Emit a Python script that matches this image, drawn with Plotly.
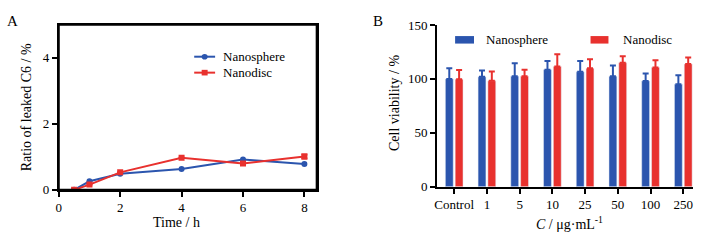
import plotly.graph_objects as go

W, H = 717, 241

# Panel A data
time_h = [0.5, 1, 2, 4, 6, 8]
sphere_leak = [0.0, 0.26, 0.49, 0.63, 0.92, 0.78]
disc_leak = [0.0, 0.16, 0.53, 0.97, 0.80, 1.01]
disc_leak_err = [0, 0, 0, 0, 0, 0.06]

# Panel B data
conc_labels = ["Control", "1", "5", "10", "25", "50", "100", "250"]
sphere_viab = [100, 102, 102.5, 108.6, 106.6, 102.5, 98, 95]
sphere_err = [10, 5.7, 12, 8, 10, 10, 7, 8.5]
disc_viab = [99.6, 98.2, 102.5, 111.5, 109.8, 115, 110.6, 113.8]
disc_err = [8.7, 8.7, 6, 11.3, 8.4, 6, 6.7, 6]

BLUE = "#2b55ae"
RED = "#e8312e"
FONT = "Liberation Serif, Times New Roman, serif"

def px(x):
    return x / W

def py(y):
    return 1 - y / H

fig = go.Figure()

fig.add_trace(go.Scatter(
    x=time_h, y=sphere_leak, name="Nanosphere", mode="lines+markers",
    line=dict(color=BLUE, width=2), marker=dict(symbol="circle", size=6, color=BLUE),
    xaxis="x", yaxis="y", showlegend=False))
fig.add_trace(go.Scatter(
    x=time_h, y=disc_leak, name="Nanodisc", mode="lines+markers",
    line=dict(color=RED, width=2), marker=dict(symbol="square", size=6, color=RED),
    error_y=dict(type="data", array=disc_leak_err, color=RED, thickness=2, width=3),
    xaxis="x", yaxis="y", showlegend=False))

fig.add_trace(go.Bar(
    x=conc_labels, y=sphere_viab, name="Nanosphere", marker_color=BLUE,
    error_y=dict(type="data", array=sphere_err, arrayminus=[0]*8, symmetric=False,
                 color=BLUE, thickness=2, width=3),
    xaxis="x2", yaxis="y2", showlegend=False))
fig.add_trace(go.Bar(
    x=conc_labels, y=disc_viab, name="Nanodisc", marker_color=RED,
    error_y=dict(type="data", array=disc_err, arrayminus=[0]*8, symmetric=False,
                 color=RED, thickness=2, width=3),
    xaxis="x2", yaxis="y2", showlegend=False))

tickfont = dict(family=FONT, size=13, color="black")
axis_common = dict(showgrid=False, zeroline=False, showline=True, linecolor="black",
                   linewidth=2, ticks="outside", ticklen=5, tickwidth=2, tickcolor="black",
                   tickfont=tickfont)

fig.update_layout(
    width=W, height=H, margin=dict(l=0, r=0, t=0, b=0),
    paper_bgcolor="white", plot_bgcolor="white",
    font=dict(family=FONT, size=13, color="black"),
    barmode="group", bargap=0.4, bargroupgap=0.2,
    xaxis=dict(domain=[px(56), px(315)], range=[0, 8.4], tickvals=[0, 2, 4, 6, 8],
               mirror=True, anchor="y", **axis_common),
    yaxis=dict(domain=[py(195), py(19)], range=[0, 5], tickvals=[0, 2, 4],
               mirror=True, anchor="x", **axis_common),
    xaxis2=dict(domain=[px(436), px(693)], range=[-0.52, 7.3], anchor="y2",
                type="category", **axis_common),
    yaxis2=dict(domain=[py(191.7), py(19.2)], range=[0, 150], tickvals=[0, 50, 100, 150],
                anchor="x2", **axis_common),
    showlegend=False,
)

ann = []
def text(x, y, t, size=14, angle=0, xanchor="center"):
    ann.append(dict(x=px(x), y=py(y), xref="paper", yref="paper", text=t, showarrow=False,
                    textangle=angle, xanchor=xanchor, yanchor="middle",
                    font=dict(family=FONT, size=size, color="black")))

text(10, 15, "A", 15)
text(377, 15, "B", 15)
text(23, 107, "Ratio of leaked C6 / %", 14, -90)
text(174, 230, "Time / h", 14)
text(393, 102, "Cell viability / %", 14, -90)
text(569, 230, "<i>C</i> / μg·mL<sup>-1</sup>", 14)
text(483, 35, "Nanosphere", 13, xanchor="left")
text(621, 35, "Nanodisc", 13, xanchor="left")
text(219, 53, "Nanosphere", 13, xanchor="left")
text(219, 70, "Nanodisc", 13, xanchor="left")

shapes = [
    # panel A frame
    dict(type="rect", xref="x domain", yref="y domain", x0=0, x1=1, y0=0, y1=1,
         line=dict(color="black", width=2), fillcolor="rgba(0,0,0,0)", layer="above"),
    # legend B
    dict(type="rect", xref="paper", yref="paper", x0=px(454), x1=px(473), y0=py(39), y1=py(31),
         fillcolor=BLUE, line=dict(width=0)),
    dict(type="rect", xref="paper", yref="paper", x0=px(590), x1=px(608), y0=py(39), y1=py(31),
         fillcolor=RED, line=dict(width=0)),
    # legend A
    dict(type="line", xref="paper", yref="paper", x0=px(192), x1=px(213), y0=py(53), y1=py(53),
         line=dict(color=BLUE, width=2)),
    dict(type="circle", xref="paper", yref="paper", x0=px(199.5), x1=px(205.5), y0=py(56), y1=py(50),
         fillcolor=BLUE, line=dict(width=0)),
    dict(type="line", xref="paper", yref="paper", x0=px(192), x1=px(213), y0=py(70), y1=py(70),
         line=dict(color=RED, width=2)),
    dict(type="rect", xref="paper", yref="paper", x0=px(199.5), x1=px(205.5), y0=py(73), y1=py(67),
         fillcolor=RED, line=dict(width=0)),
]
fig.update_layout(annotations=ann, shapes=shapes)

fig.write_html("out.html", post_script="document.body.style.margin='0';",
               config={"displayModeBar": False})
